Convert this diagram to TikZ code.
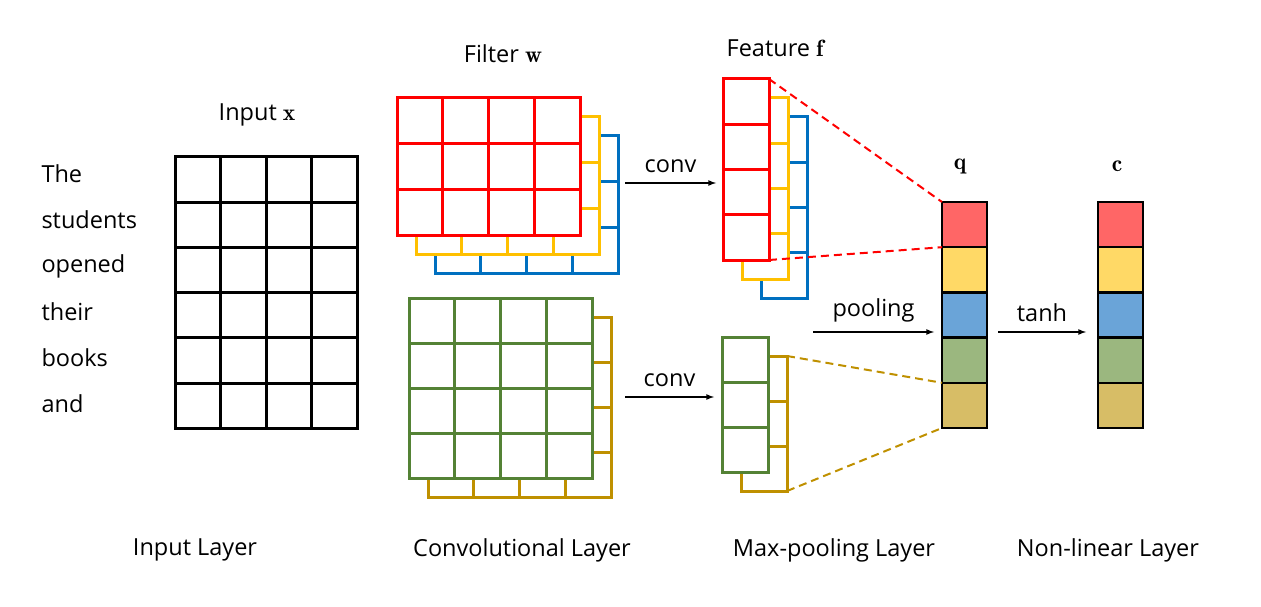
\documentclass[tikz,border=0pt]{standalone}
\usepackage{fontspec}
\setsansfont{Open Sans}
\usepackage{amsmath}
\usetikzlibrary{positioning}
\definecolor{cred}{HTML}{FF0000}
\definecolor{cyellow}{HTML}{FFC000}
\definecolor{cblue}{HTML}{0070C0}
\definecolor{cgreen}{HTML}{548235}
\definecolor{cbrown}{HTML}{BF9000}
\definecolor{qred}{HTML}{FF6666}
\definecolor{qyellow}{HTML}{FFD966}
\definecolor{qblue}{HTML}{6AA4D8}
\definecolor{qgreen}{HTML}{9BB77F}
\definecolor{qtan}{HTML}{D7BD66}
\tikzstyle{grid}=[rectangle, fill=white, inner sep=0, outer sep=0, anchor=north west]
\tikzstyle{cell}=[rectangle, draw=black, line width=2.5pt, minimum width=45pt, minimum height=45.2pt, inner sep=0, outer sep=0]
\tikzstyle{label}=[font=\sffamily\fontsize{23.5}{28}\selectfont]
\tikzstyle{flow}=[->, >=latex, line width=1.6pt]
\tikzstyle{link}=[line width=2pt, dash pattern=on 8pt off 5pt]
% name, x, y, cols, rows, cell width, cell height, colour
\newcommand{\layer}[8]{%
  \node[grid, draw=#8, line width=3pt, minimum width=#4*#6pt, minimum height=#5*#7pt] (#1) at (#2,#3) {};
  \foreach \i in {1,...,#4} {\ifnum\i<#4 \draw[#8, line width=3pt] (#2+\i*#6,#3) -- (#2+\i*#6,#3+#5*#7);\fi}
  \foreach \j in {1,...,#5} {\ifnum\j<#5 \draw[#8, line width=3pt] (#2,#3+\j*#7) -- (#2+#4*#6,#3+\j*#7);\fi}
}
\begin{document}
\begin{tikzpicture}[x=1pt, y=-1pt]
  \useasboundingbox (0,0) rectangle (1261,607);
  % input
  \foreach \w [count=\k] in {The, students, opened, their, books, and}
    \node[label, anchor=west] (w\k) at (38,174+46*\k-46) {\w};
  \layer{input}{175}{157}{4}{6}{45.5}{45.2}{black}
  \node[label] (inx) at (257,115) {Input \(\mathbf{x}\)};
  % filters
  \layer{fb}{435}{136}{4}{3}{45.75}{45.7}{cblue}
  \layer{fy}{416}{117}{4}{3}{45.75}{45.7}{cyellow}
  \layer{fr}{397}{98}{4}{3}{45.75}{45.7}{cred}
  \layer{gb}{428}{317}{4}{4}{45.75}{45}{cbrown}
  \layer{gg}{409}{298}{4}{4}{45.75}{45}{cgreen}
  \node[label] (filw) at (503,54) {Filter \(\mathbf{w}\)};
  % features
  \layer{eb}{761}{117}{1}{4}{46}{45.25}{cblue}
  \layer{ey}{742}{98}{1}{4}{46}{45.25}{cyellow}
  \layer{er}{723}{79}{1}{4}{46}{45.25}{cred}
  \layer{hb}{741}{356}{1}{3}{46}{45}{cbrown}
  \layer{hg}{722}{337}{1}{3}{46}{45}{cgreen}
  \node[label] (featf) at (775,48) {Feature \(\mathbf{f}\)};
  % pooled and activated vectors
  \foreach \c [count=\k] in {qred, qyellow, qblue, qgreen, qtan} {
    \node[cell, fill=\c] (q\k) at (964.5,202+45.2*\k-22.6) {};
    \node[cell, fill=\c] (c\k) at (1120.5,202+45.2*\k-22.6) {};
  }
  \node[label] (qlab) at (960,166) {\(\mathbf{q}\)};
  \node[label] (clab) at (1117,166) {\(\mathbf{c}\)};
  % links
  \draw[cred, link] (er.north east) -- (q1.north west);
  \draw[cred, link] (er.south east) -- (q1.south west);
  \draw[cbrown, link] (hb.north east) -- (q4.south west);
  \draw[cbrown, link] (hb.south east) -- (q5.south west);
  \coordinate (c1s) at (625,183); \coordinate (c1e) at (716,183);
  \coordinate (c2s) at (625,397); \coordinate (c2e) at (714,397);
  \coordinate (ps) at (813,332);  \coordinate (pe) at (934,332);
  \coordinate (ts) at (998,332);  \coordinate (te) at (1086,332);
  \draw[flow] (c1s) -- node[label, above=6pt] {conv} (c1e);
  \draw[flow] (c2s) -- node[label, above=6pt] {conv} (c2e);
  \draw[flow] (ps) -- node[label, above=6pt] {pooling} (pe);
  \draw[flow] (ts) -- node[label, above=6pt] {tanh} (te);
  % layer names
  \node[label] (l1) at (195,550) {Input Layer};
  \node[label] (l2) at (522,550) {Convolutional Layer};
  \node[label] (l3) at (834,550) {Max-pooling Layer};
  \node[label] (l4) at (1108,550) {Non-linear Layer};
\end{tikzpicture}
\end{document}
